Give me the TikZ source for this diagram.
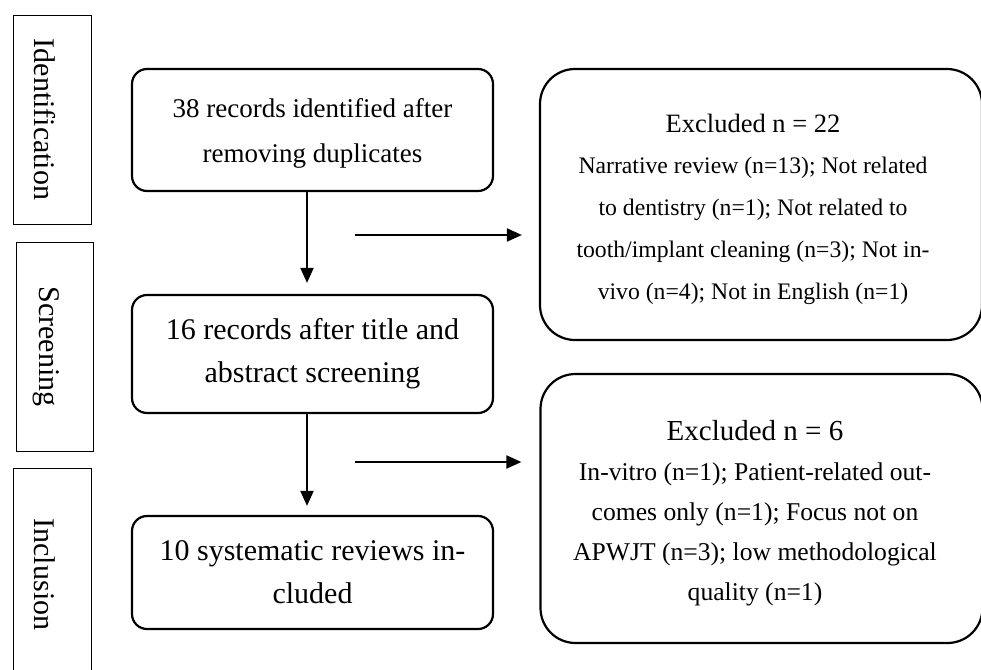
\documentclass[tikz,border=0pt]{standalone}
\usepackage{fontspec}
\setmainfont{Liberation Serif}
\usetikzlibrary{arrows.meta}
\begin{document}
\begin{tikzpicture}[x=1pt,y=-1pt,
  mainbox/.style={draw, line width=2.2pt, rounded corners=15pt, align=center, inner sep=0pt},
  exbox/.style={draw, line width=2.2pt, rounded corners=35pt, inner sep=0pt, minimum width=442pt},
  extxt/.style={align=center, inner sep=0pt},
  stagebox/.style={draw, line width=0.9pt, minimum width=78pt, inner sep=0pt},
  stagetxt/.style={rotate=-90, inner sep=0pt, font=\fontsize{30}{36}\selectfont},
  arr/.style={line width=2pt, -{Triangle[width=13pt,length=15pt]}}]
\useasboundingbox (0,0) rectangle (981,669);
\clip (0,0) rectangle (981,669);

% stage labels
\node[stagebox, minimum height=209pt] (s1) at (52,119.5) {};
\node[stagetxt] (t1) at (45,119.5) {Identification};
\node[stagebox, minimum height=209pt, minimum width=77pt] (s2) at (54.5,346.5) {};
\node[stagetxt] (t2) at (46,346.5) {Screening};
\node[stagebox, minimum height=240pt] (s3) at (52,588) {};
\node[stagetxt] (t3) at (45,574.5) {Inclusion};

% main flow
\node[mainbox, minimum width=361pt, minimum height=122pt,
      font=\fontsize{27}{45}\selectfont] (b1) at (312.5,130) {};
\node[extxt, font=\fontsize{27}{45}\selectfont] (b1t) at (312.5,133)
  {38 records identified after\\removing duplicates};
\node[mainbox, minimum width=361pt, minimum height=118pt,
      font=\fontsize{30}{43}\selectfont] (b2) at (312.5,354)
  {16 records after title and\\abstract screening};
\node[mainbox, minimum width=361pt, minimum height=113pt,
      font=\fontsize{30}{43}\selectfont] (b3) at (312.5,572.5)
  {10 systematic reviews in-\\cluded};

% exclusion boxes
\node[exbox, minimum height=271pt] (r1) at (761,204.5) {};
\node[extxt, font=\fontsize{23.7}{41.7}\selectfont] (r1t) at (753,209)
  {{\fontsize{26.5}{41.7}\selectfont Excluded n = 22}\\
   Narrative review (n=13); Not related\\
   to dentistry (n=1); Not related to\\
   tooth/implant cleaning (n=3); Not in-\\
   vivo (n=4); Not in English (n=1)};
\node[exbox, minimum height=269pt] (r2) at (761.5,508.5) {};
\node[extxt, font=\fontsize{25.6}{40}\selectfont] (r2t) at (755,513.5)
  {{\fontsize{29}{40}\selectfont Excluded n = 6}\\
   In-vitro (n=1); Patient-related out-\\
   comes only (n=1); Focus not on\\
   APWJT (n=3); low methodological\\
   quality (n=1)};

% connectors
\coordinate (vx) at (307,0);
\coordinate (h1) at (355,235);
\coordinate (h2) at (355,462);
\draw[arr, shorten >=11pt] (b1.south -| vx) -- (b2.north -| vx);
\draw[arr, shorten >=9pt] (b2.south -| vx) -- (b3.north -| vx);
\draw[arr, shorten >=17pt] (h1) -- (h1 -| r1.west);
\draw[arr, shorten >=18pt] (h2) -- (h2 -| r2.west);
\end{tikzpicture}
\end{document}
